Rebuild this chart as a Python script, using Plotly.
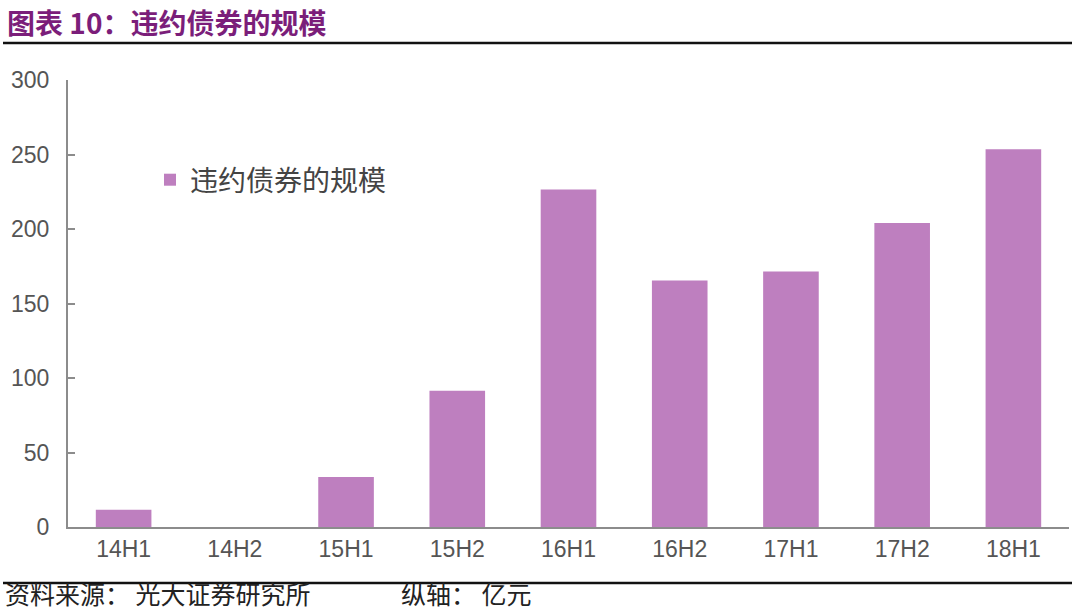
import plotly.graph_objects as go

categories = ["14H1", "14H2", "15H1", "15H2", "16H1", "16H2", "17H1", "17H2", "18H1"]
values = [11.5, 0, 33.5, 91.5, 226.5, 165.5, 171.5, 204, 253.5]
series_name = "违约债券的规模"
yticks = [0, 50, 100, 150, 200, 250, 300]

W, H = 1080, 610
ML, MR, MT, MB = 68, 11, 80, 83
PW, PH = W - ML - MR, H - MT - MB

def px(x):
    return (x - ML) / PW

def py(y):
    return (H - MB - y) / PH

fig = go.Figure()
fig.add_trace(go.Bar(
    x=categories, y=values, name=series_name,
    marker=dict(color="#BE7FBF", line=dict(width=0)),
))

fig.update_layout(
    width=W, height=H,
    margin=dict(l=ML, r=MR, t=MT, b=MB),
    paper_bgcolor="white", plot_bgcolor="white",
    bargap=0.5,
    showlegend=True,
    legend=dict(x=px(150), y=py(180), xanchor="left", yanchor="middle",
                font=dict(family="Noto Sans CJK SC", size=28, color="#444"),
                bgcolor="rgba(0,0,0,0)", itemwidth=30),
    font=dict(family="Liberation Sans, Arial", color="#555"),
    xaxis=dict(showline=True, linecolor="#8c8c8c", linewidth=2, ticks="",
               tickfont=dict(size=23, color="#555"), showgrid=False),
    yaxis=dict(range=[0, 300], tickvals=yticks, showline=True, linecolor="#8c8c8c",
               linewidth=2, ticks="inside", ticklen=7, tickcolor="#8c8c8c", tickwidth=2,
               tickfont=dict(size=23, color="#555"), showgrid=False, zeroline=False,
               ticklabelstandoff=12),
)

fig.add_annotation(xref="paper", yref="paper", x=px(5), y=py(22), xanchor="left", yanchor="middle",
                   text="<b>图表 10：违约债券的规模</b>", showarrow=False,
                   font=dict(family="Noto Sans CJK SC", size=28, color="#7B1E7A"))
fig.add_annotation(xref="paper", yref="paper", x=px(4), y=py(593), xanchor="left", yanchor="middle",
                   text="资料来源： 光大证券研究所", showarrow=False, borderpad=0,
                   font=dict(family="Noto Sans CJK SC", size=25, color="#222"))
fig.add_annotation(xref="paper", yref="paper", x=px(400), y=py(593), xanchor="left", yanchor="middle",
                   text="纵轴： 亿元", showarrow=False, borderpad=0,
                   font=dict(family="Noto Sans CJK SC", size=25, color="#222"))

fig.add_shape(type="line", xref="paper", yref="paper", x0=px(3), x1=px(1072), y0=py(43), y1=py(43),
              line=dict(color="#111", width=2.5))
fig.add_shape(type="line", xref="paper", yref="paper", x0=px(3), x1=px(1072), y0=py(583), y1=py(583),
              line=dict(color="#111", width=2.5))

fig.write_html("out.html", config={"displayModeBar": False},
               post_script="document.body.style.margin='0';document.body.style.overflow='hidden';")
